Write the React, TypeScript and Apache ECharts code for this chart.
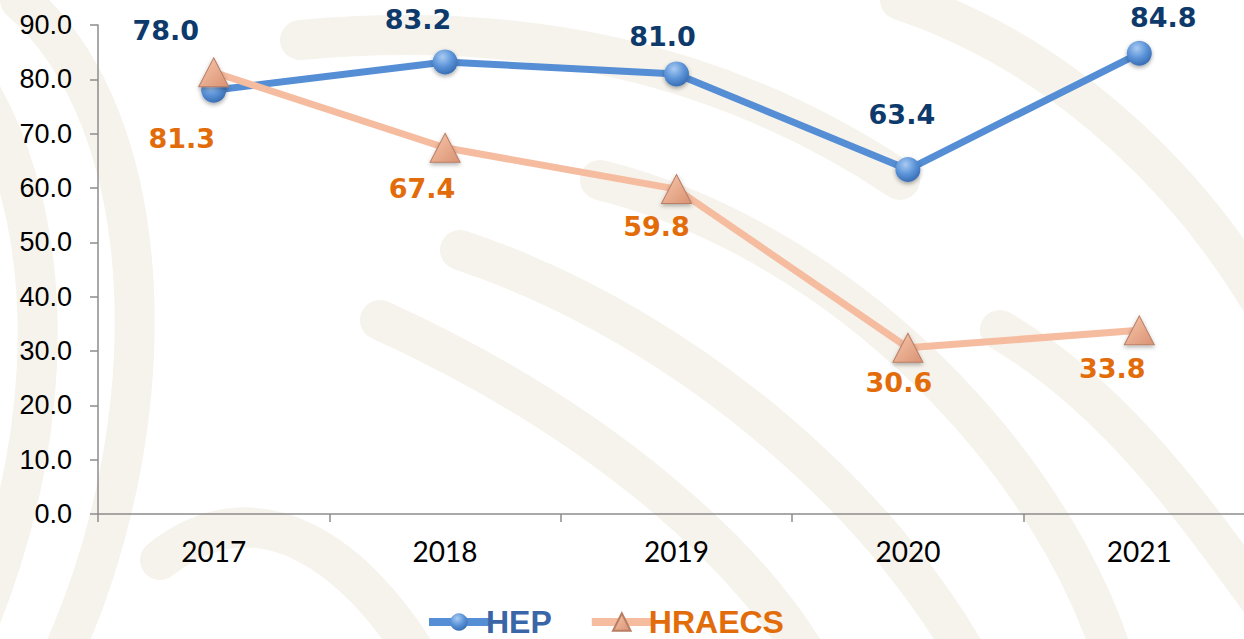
import React, { useEffect, useRef } from "react";
import * as echarts from "echarts";

const years = ["2017", "2018", "2019", "2020", "2021"];
const hep = [78.0, 83.2, 81.0, 63.4, 84.8];
const hraecs = [81.3, 67.4, 59.8, 30.6, 33.8];
const yTicks = { min: 0, max: 90, interval: 10 };

const hepOffsets = [[-48, -60], [-27, -42], [-14, -37], [-6, -55], [24, -36]];
const hraOffsets = [[-32, 66], [-23, 41], [-20, 37], [-9, 35], [-27, 38]];

export default function App() {
  const ref = useRef<HTMLDivElement>(null);
  useEffect(() => {
    if (!ref.current) return;
    const chart = echarts.init(ref.current, undefined, { renderer: "svg" });
    const beige = "#F6F3EC";
    const curves = [
      [[-40, 60], [60, 200], [60, 420], [-20, 620]],
      [[20, 0], [160, 120], [170, 420], [60, 660]],
      [[300, 40], [520, 20], [720, 60], [900, 180]],
      [[380, 320], [600, 420], [760, 560], [820, 680]],
      [[460, 250], [700, 330], [900, 520], [980, 680]],
      [[600, 180], [840, 240], [1060, 460], [1120, 680]],
      [[900, 0], [1080, 60], [1200, 200], [1260, 300]],
      [[160, 560], [260, 480], [360, 560], [420, 660]],
      [[1000, 330], [1120, 400], [1200, 520], [1260, 600]],
    ];
    const graphics = curves.map((c) => ({
      type: "bezierCurve",
      z: -10,
      silent: true,
      shape: {
        x1: c[0][0], y1: c[0][1],
        cpx1: c[1][0], cpy1: c[1][1],
        cpx2: c[2][0], cpy2: c[2][1],
        x2: c[3][0], y2: c[3][1],
      },
      style: { stroke: beige, lineWidth: 40, fill: null, lineCap: "round" },
    }));
    const labelFont = {
      fontFamily: "DejaVu Sans, Verdana",
      fontWeight: "bold",
      fontSize: 27,
    };
    chart.setOption({
      animation: false,
      backgroundColor: "#ffffff",
      graphic: graphics,
      grid: { left: 98, right: 0, top: 25, bottom: 125 },
      legend: {
        bottom: -4,
        left: 420,
        itemWidth: 60,
        itemHeight: 22,
        itemGap: 36,
        lineStyle: { width: 8 },
        data: [
          { name: "HEP", textStyle: { color: "#3A66A8" } },
          { name: "HRAECS", textStyle: { color: "#E36C0A" } },
        ],
        textStyle: {
          fontFamily: "Liberation Sans, Arial",
          fontWeight: "bold",
          fontSize: 32,
          padding: [0, 0, 0, -8],
        },
      },
      xAxis: {
        type: "category",
        data: years,
        boundaryGap: true,
        axisLine: { lineStyle: { color: "#8c8c8c", width: 1.5 } },
        axisTick: { show: true, length: 8, lineStyle: { color: "#8c8c8c", width: 1.5 } },
        axisLabel: {
          color: "#000",
          fontSize: 28,
          fontFamily: "Lato, Open Sans",
          margin: 23,
        },
      },
      yAxis: {
        type: "value",
        min: yTicks.min,
        max: yTicks.max,
        interval: yTicks.interval,
        splitLine: { show: false },
        axisLine: { show: true, lineStyle: { color: "#8c8c8c", width: 1.5 } },
        axisTick: { show: true, length: 8, lineStyle: { color: "#8c8c8c", width: 1.5 } },
        axisLabel: {
          color: "#000",
          fontSize: 27,
          fontFamily: "Liberation Sans, Arial",
          margin: 26,
          formatter: (v: number) => v.toFixed(1),
        },
      },
      series: [
        {
          name: "HEP",
          type: "line",
          z: 3,
          data: hep.map((v, i) => ({
            value: v,
            label: { offset: hepOffsets[i] },
          })),
          lineStyle: { color: "#558ED5", width: 7 },
          symbol: "circle",
          symbolSize: 25,
          itemStyle: {
            color: new echarts.graphic.RadialGradient(0.4, 0.3, 0.8, [
              { offset: 0, color: "#A9CBF2" },
              { offset: 0.5, color: "#5B93D8" },
              { offset: 1, color: "#2F62A8" },
            ]),
            shadowBlur: 4,
            shadowColor: "rgba(0,0,0,0.35)",
            shadowOffsetY: 2,
          },
          label: {
            show: true,
            position: "inside",
            color: "#0D3A6B",
            ...labelFont,
            formatter: (p: any) => Number(p.value).toFixed(1),
          },
        },
        {
          name: "HRAECS",
          type: "line",
          z: 4,
          data: hraecs.map((v, i) => ({
            value: v,
            label: { offset: hraOffsets[i] },
          })),
          lineStyle: { color: "#F5BCA0", width: 7 },
          symbol: "triangle",
          symbolSize: [30, 29],
          itemStyle: {
            color: new echarts.graphic.LinearGradient(0, 0, 1, 1, [
              { offset: 0, color: "#F9C7AC" },
              { offset: 1, color: "#D99273" },
            ]),
            borderColor: "#B97E64",
            borderWidth: 1,
            shadowBlur: 4,
            shadowColor: "rgba(0,0,0,0.3)",
            shadowOffsetY: 2,
          },
          label: {
            show: true,
            position: "inside",
            color: "#E36C0A",
            ...labelFont,
            formatter: (p: any) => Number(p.value).toFixed(1),
          },
        },
      ],
    });
    return () => chart.dispose();
  }, []);
  return (
    <div
      style={{
        position: "absolute",
        left: 0,
        top: 0,
        width: 1244,
        height: 639,
        overflow: "hidden",
      }}
    >
      <div ref={ref} style={{ width: 1255, height: 639 }} />
    </div>
  );
}
